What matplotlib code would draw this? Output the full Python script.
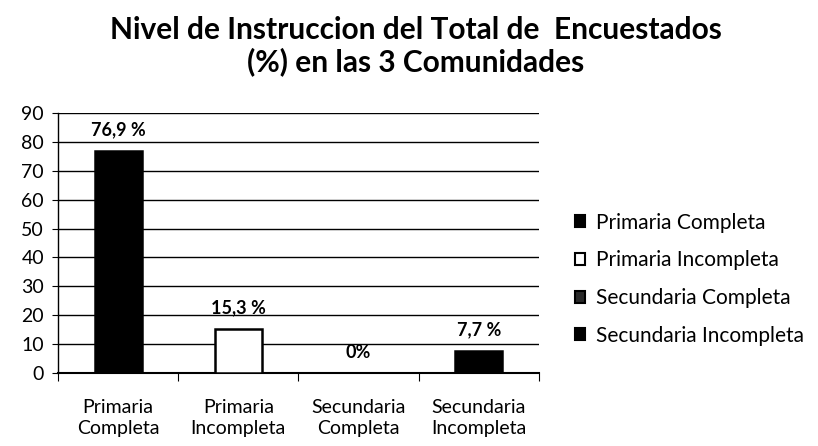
import matplotlib.pyplot as plt
from matplotlib.patches import Patch

categorias = ['Primaria\nCompleta', 'Primaria\nIncompleta', 'Secundaria\nCompleta', 'Secundaria\nIncompleta']
leyenda = ['Primaria Completa', 'Primaria Incompleta', 'Secundaria Completa', 'Secundaria Incompleta']
valores = [76.9, 15.3, 0, 7.7]
etiquetas = ['76,9 %', '15,3 %', '0%', '7,7 %']
colores = ['black', 'white', '#2a2a2a', 'black']

plt.rcParams['font.family'] = ['Lato', 'DejaVu Sans']

fig = plt.figure(figsize=(8.18, 4.46), dpi=100)
ax = fig.add_axes([0.0709, 0.1637, 0.588, 0.583])

x = range(len(valores))
ax.bar(x, valores, width=0.39, color=colores, edgecolor='black', linewidth=1.8, zorder=3)

# etiquetas de datos arriba de cada barra
for i, (v, t) in enumerate(zip(valores, etiquetas)):
    ax.annotate(t, (i, v), xytext=(0, 15), textcoords='offset points',
                ha='center', va='center', fontsize=13, fontweight='bold')

ax.set_ylim(0, 90)
ax.set_xlim(-0.5, 3.5)
ax.set_yticks(range(0, 91, 10))
ax.tick_params(axis='y', labelsize=14, length=4, direction='out', pad=6)
ax.set_xticks([-0.5, 0.5, 1.5, 2.5, 3.5])
ax.set_xticklabels([])
ax.set_xticks(list(x), categorias, minor=True)
ax.tick_params(axis='x', which='major', length=6, direction='out')
ax.tick_params(axis='x', which='minor', length=0, labelsize=14, pad=19)
for lab in ax.get_xticklabels(minor=True):
    lab.set_linespacing(1.25)
ax.grid(axis='y', color='black', linewidth=1, zorder=0)
for s in ['top', 'right']:
    ax.spines[s].set_visible(False)
ax.spines['left'].set_linewidth(1)
ax.spines['bottom'].set_linewidth(1.5)

fig.text(0.508, 0.965, 'Nivel de Instruccion del Total de  Encuestados\n(%) en las 3 Comunidades',
         ha='center', va='top', fontsize=21.5, fontweight='bold', linespacing=1.15)

handles = [Patch(facecolor=c, edgecolor='black', linewidth=1.5) for c in colores]
fig.legend(handles, leyenda, loc='center left', bbox_to_anchor=(0.703, 0.374), frameon=False,
           fontsize=15, handlelength=0.5, handleheight=0.5, handletextpad=0.5,
           labelspacing=0.85, borderpad=0, borderaxespad=0)

plt.savefig('out.png')
